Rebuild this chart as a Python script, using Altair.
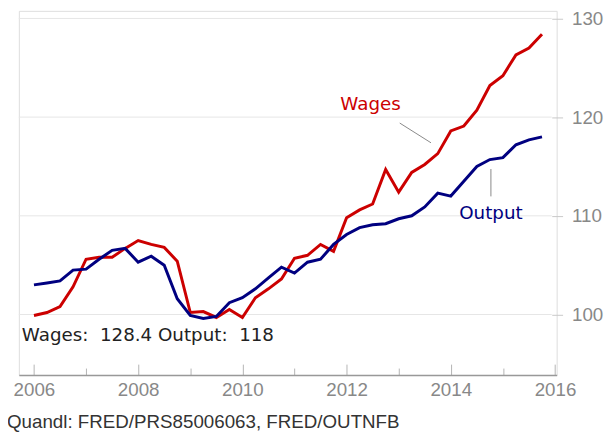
import altair as alt
import pandas as pd

# ---- data ----
quarters = [2006 + 0.25 * i for i in range(40)]
wages = [99.9, 100.2, 100.8, 102.8, 105.6, 105.8, 105.8, 106.7,
         107.5, 107.1, 106.8, 105.4, 100.2, 100.3, 99.7, 100.5,
         99.7, 101.7, 102.6, 103.6, 105.7, 106.0, 107.1, 106.4,
         109.8, 110.6, 111.2, 114.7, 112.4, 114.4, 115.2, 116.3,
         118.6, 119.1, 120.7, 123.2, 124.2, 126.3, 127.0, 128.4]
output = [103.0, 103.2, 103.4, 104.5, 104.6, 105.6, 106.5, 106.7,
          105.3, 105.9, 105.0, 101.6, 99.9, 99.6, 99.8, 101.2,
          101.7, 102.6, 103.7, 104.8, 104.2, 105.3, 105.6, 107.1,
          108.1, 108.8, 109.1, 109.2, 109.7, 110.0, 110.9, 112.3,
          112.0, 113.5, 115.0, 115.7, 115.9, 117.2, 117.7, 118.0]

y_ticks = [100, 110, 120, 130]
x_major = [2006, 2008, 2010, 2012, 2014, 2016]
x_minor = [2007, 2009, 2011, 2013, 2015]

label_names = ["Wages", "Output"]
label_x = [2012.46, 2014.77]
label_y = [120.74, 109.64]
ptr_x = [2013.02, 2014.77]
ptr_y = [119.4, 114.74]
ptr_x2 = [2013.62, 2014.77]
ptr_y2 = [117.4, 111.97]
summary_x = [2005.767]
summary_y = [97.3]
caption = "Quandl: FRED/PRS85006063, FRED/OUTNFB"

RED = "#cc0000"
NAVY = "#000080"
FONT = "Liberation Sans"
ANN_FONT = "DejaVu Sans"
TICK_GRAY = "#b4b4b4"
LABEL_GRAY = "#888888"

# ---- tables ----
df_w = pd.DataFrame({"year": quarters, "value": wages})
df_o = pd.DataFrame({"year": quarters, "value": output})
df_grid = pd.DataFrame({"v": y_ticks})
df_lab = pd.DataFrame({"name": label_names, "x": label_x, "y": label_y})
df_ptr = pd.DataFrame({"x": ptr_x, "y": ptr_y, "x2": ptr_x2, "y2": ptr_y2})
NB = "\u00a0"
summary = f"Wages:{NB} {wages[-1]:g} Output:{NB} {output[-1]:g}"
df_sum = pd.DataFrame({"x": summary_x, "y": summary_y, "t": [summary]})

xscale = alt.Scale(domain=[2005.71, 2016.032], nice=False, zero=False)
yscale = alt.Scale(domain=[93.87, 130.77], nice=False, zero=False)

axis_major = alt.Axis(orient="bottom", values=x_major, format="d", offset=-11,
                      tickSize=11, tickColor=TICK_GRAY, tickWidth=1, domain=False,
                      grid=False, labelFontSize=19, labelColor=LABEL_GRAY,
                      labelFont=FONT, labelPadding=6, labelFlush=False,
                      labelOverlap=False, title=None)
axis_minor = alt.Axis(orient="bottom", values=x_minor, offset=-7, tickSize=7,
                      tickColor=TICK_GRAY, tickWidth=1, domain=False, grid=False,
                      labels=False, title=None)
axis_line = alt.Axis(orient="bottom", values=[2006], offset=0, ticks=False,
                     labels=False, domain=True, domainColor="#999999",
                     domainWidth=1.5, grid=False, title=None)
y_axis = alt.Axis(orient="right", values=y_ticks, offset=-5, domain=False,
                  tickSize=11, tickColor="#c8c8c8", tickWidth=1, grid=False,
                  labelFontSize=19, labelColor=LABEL_GRAY, labelFont=FONT,
                  labelPadding=9, labelOverlap=False, title=None)

grid = alt.Chart(df_grid).mark_rule(color="#e6e6e6", strokeWidth=1).encode(
    y=alt.Y("v:Q", scale=yscale, axis=y_axis),
    x=alt.value(0), x2=alt.value(540))

line_w = alt.Chart(df_w).mark_line(color=RED, strokeWidth=3).encode(
    x=alt.X("year:Q", scale=xscale, axis=axis_major),
    y=alt.Y("value:Q", scale=yscale, axis=y_axis))
line_o = alt.Chart(df_o).mark_line(color=NAVY, strokeWidth=3).encode(
    x=alt.X("year:Q", scale=xscale, axis=None),
    y=alt.Y("value:Q", scale=yscale, axis=y_axis))

ptr = alt.Chart(df_ptr).mark_rule(color="#888888", strokeWidth=1).encode(
    x=alt.X("x:Q", scale=xscale, axis=axis_minor),
    y=alt.Y("y:Q", scale=yscale, axis=y_axis),
    x2="x2:Q", y2="y2:Q")

labels = alt.Chart(df_lab).mark_text(fontSize=18.5, font=ANN_FONT, align="center",
                                     baseline="alphabetic").encode(
    x=alt.X("x:Q", scale=xscale, axis=axis_line),
    y=alt.Y("y:Q", scale=yscale, axis=y_axis),
    text="name:N",
    color=alt.Color("name:N", scale=alt.Scale(domain=label_names, range=[RED, NAVY]),
                    legend=None))

summ = alt.Chart(df_sum).mark_text(fontSize=18.5, font=ANN_FONT, align="left",
                                   baseline="alphabetic", color="#222222").encode(
    x=alt.X("x:Q", scale=xscale, axis=None),
    y=alt.Y("y:Q", scale=yscale, axis=y_axis),
    text="t:N")

chart = alt.layer(grid, line_w, line_o, ptr, labels, summ).resolve_axis(
    x="independent", y="shared"
).properties(
    width=545, height=369,
    autosize=alt.AutoSizeParams(type="none"),
    padding={"left": 11, "top": 0, "right": 51, "bottom": 64},
    title=alt.TitleParams(caption, orient="bottom", anchor="start", frame="group",
                          fontSize=19, font=FONT, fontWeight="normal",
                          color="#333333", dx=-12, offset=14),
).configure_view(stroke=None).configure(background="white")

chart.save("out.html", embed_options={"renderer": "svg", "actions": False})
